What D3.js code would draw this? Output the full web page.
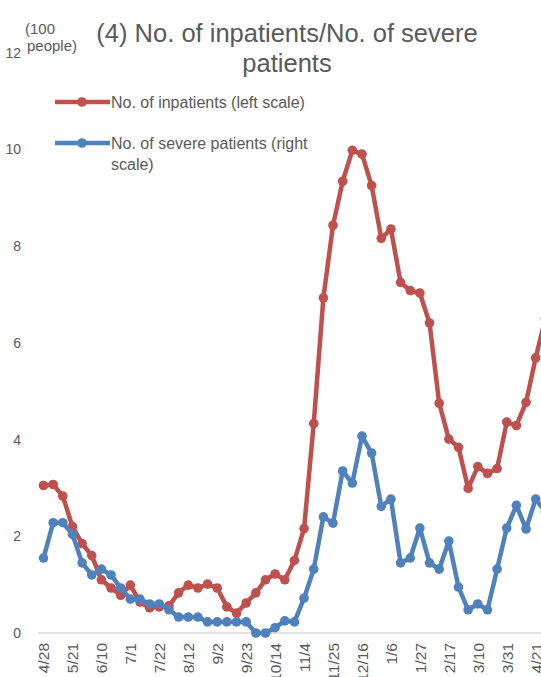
<!DOCTYPE html>
<html>
<head>
<meta charset="utf-8">
<script src="https://cdn.jsdelivr.net/npm/d3@7"></script>
<style>
  html, body { margin: 0; padding: 0; background: #fff; overflow: hidden; }
  svg { display: block; }
  text { font-family: "Liberation Sans", Arial, sans-serif; fill: #595959; }
</style>
</head>
<body>
<svg id="chart" width="541" height="677"></svg>
<script>
// ---- data (weekly, first week = 4/28) ----
const tickLabels = ["4/28","5/21","6/10","7/1","7/22","8/12","9/2","9/23","10/14","11/4",
                    "11/25","12/16","1/6","1/27","2/17","3/10","3/31","4/21"];
const tickEvery = 3;
const inpatients = [3.05,3.07,2.83,2.2,1.85,1.6,1.1,0.93,0.78,0.99,
                    0.64,0.52,0.54,0.56,0.83,0.99,0.93,1.01,0.93,0.54,
                    0.41,0.62,0.83,1.1,1.22,1.1,1.5,2.16,4.33,6.93,
                    8.43,9.34,9.98,9.9,9.25,8.16,8.35,7.25,7.08,7.03,
                    6.41,4.75,4.01,3.84,2.99,3.44,3.3,3.4,4.36,4.29,
                    4.77,5.69,6.5];
const severe = [1.55,2.28,2.28,2.04,1.45,1.2,1.32,1.2,0.93,0.7,
                0.7,0.6,0.6,0.48,0.33,0.33,0.33,0.23,0.23,0.23,
                0.23,0.23,0,0,0.11,0.25,0.23,0.72,1.32,2.4,
                2.27,3.35,3.1,4.07,3.72,2.62,2.77,1.45,1.55,2.17,
                1.45,1.32,1.9,0.95,0.48,0.6,0.48,1.32,2.17,2.64,
                2.15,2.77,2.5];
const leftTicks = [0,2,4,6,8,10,12];
const titleLines = ["(4) No. of inpatients/No. of severe", "patients"];
const unitLines = ["(100", "people)"];
const seriesNames = [["No. of inpatients (left scale)"], ["No. of severe patients (right", "scale)"]];
const colors = ["#C0504D", "#4F81BD"];

// ---- scales ----
const svg = d3.select("#chart");
const x = d3.scaleLinear().domain([0, 51]).range([43.5, 535.7]);
const yL = d3.scaleLinear().domain([0, 12]).range([633, 52.6]);
const yR = d3.scaleLinear().domain([0, 12]).range([633, 52.6]);

// baseline
svg.append("line")
  .attr("x1", 38).attr("x2", 541)
  .attr("y1", yL(0)).attr("y2", yL(0))
  .attr("stroke", "#d9d9d9").attr("stroke-width", 1.5);

// left axis labels
const yAxis = d3.axisLeft(yL).tickValues(leftTicks).tickSize(0).tickPadding(0).tickFormat(d3.format("d"));
const gy = svg.append("g").attr("transform", "translate(21,0)").call(yAxis);
gy.select(".domain").remove();
gy.selectAll("text").attr("font-size", 14).style("font-family", "'Liberation Sans', Arial, sans-serif").attr("fill", "#595959");

// x labels (rotated)
const tickIdx = tickLabels.map((d, i) => i * tickEvery);
const xAxis = d3.axisBottom(x).tickValues(tickIdx).tickSize(0).tickFormat((d, i) => tickLabels[i]);
const gx = svg.append("g").attr("transform", "translate(0,643)").call(xAxis);
gx.select(".domain").remove();
gx.selectAll("text")
  .attr("font-size", 15.5)
  .style("font-family", "'Liberation Sans', Arial, sans-serif")
  .attr("fill", "#595959")
  .attr("text-anchor", "end")
  .attr("transform", "rotate(-90)")
  .attr("x", 0).attr("y", 0).attr("dy", "0.35em");

// series
function drawSeries(data, scale, color) {
  const line = d3.line().x((d, i) => x(i)).y(d => scale(d));
  svg.append("path").datum(data)
    .attr("d", line).attr("fill", "none")
    .attr("stroke", color).attr("stroke-width", 4.5)
    .attr("stroke-linejoin", "round");
  svg.append("g").selectAll("circle").data(data).join("circle")
    .attr("cx", (d, i) => x(i)).attr("cy", d => scale(d))
    .attr("r", 4.8).attr("fill", color);
}
drawSeries(inpatients, yL, colors[0]);
drawSeries(severe, yR, colors[1]);

// title
svg.append("g").selectAll("text").data(titleLines).join("text")
  .attr("x", 287).attr("y", (d, i) => 42 + i * 30)
  .attr("text-anchor", "middle").attr("font-size", 25.5).text(d => d);

// unit label
svg.append("g").selectAll("text").data(unitLines).join("text")
  .attr("x", (d, i) => i === 0 ? 25 : 27).attr("y", (d, i) => 34 + i * 17)
  .attr("font-size", 15).text(d => d);

// legend
const legY = [102, 143];
seriesNames.forEach((lines, k) => {
  const g = svg.append("g");
  g.append("line").attr("x1", 55).attr("x2", 110).attr("y1", legY[k]).attr("y2", legY[k])
    .attr("stroke", colors[k]).attr("stroke-width", 4.5);
  g.append("circle").attr("cx", 82).attr("cy", legY[k]).attr("r", 4.8).attr("fill", colors[k]);
  g.selectAll("text").data(lines).join("text")
    .attr("x", 111).attr("y", (d, i) => legY[k] + 5.5 + i * 21)
    .attr("font-size", 16).text(d => d);
});
</script>
</body>
</html>
